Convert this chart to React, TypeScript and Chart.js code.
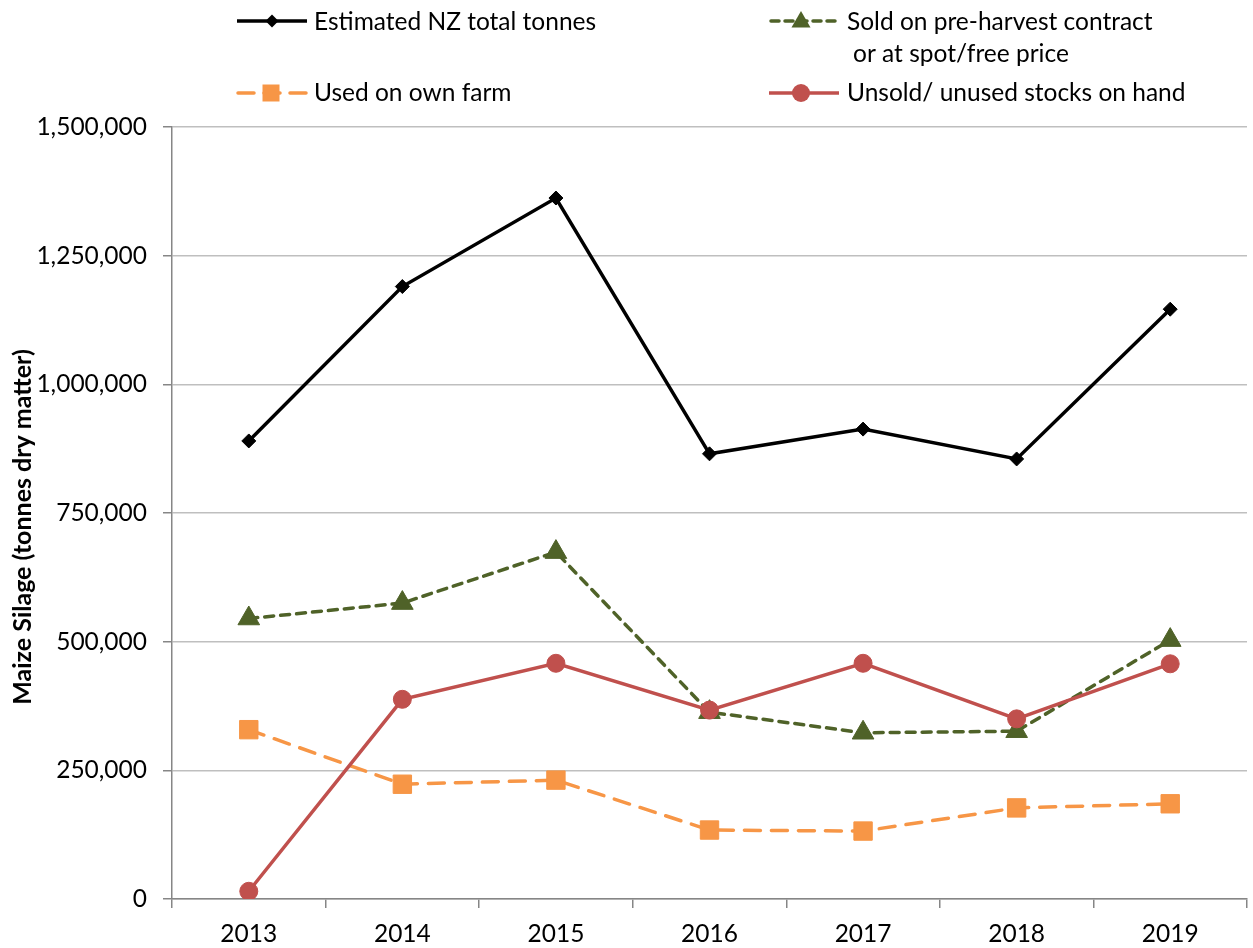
import React, { useEffect, useRef } from "react";
import { Chart, registerables } from "chart.js";

Chart.register(...registerables);

const years = ["2013", "2014", "2015", "2016", "2017", "2018", "2019"];
const totalTonnes = [890000, 1190000, 1362000, 865000, 913000, 855000, 1146000];
const soldContract = [545000, 575000, 674000, 363000, 323000, 326000, 503000];
const usedOwnFarm = [329000, 223000, 231000, 134000, 132000, 177000, 185000];
const unsoldStocks = [15000, 388000, 458000, 367000, 458000, 350000, 457000];
const yTicks = [0, 250000, 500000, 750000, 1000000, 1250000, 1500000];
const yTitle = "Maize Silage (tonnes dry matter)";

const FONT = "Lato, 'Open Sans', sans-serif";
const BLACK = "#000000";
const GREEN = "#4F6228";
const ORANGE = "#F79646";
const RED = "#C0504D";
const AXIS = "#868686";
const GRID = "#BFBFBF";

function marker(ctx: CanvasRenderingContext2D, style: string, x: number, y: number, r: number, color: string) {
  ctx.save();
  ctx.fillStyle = color;
  ctx.beginPath();
  if (style === "diamond") {
    ctx.moveTo(x, y - r);
    ctx.lineTo(x + r, y);
    ctx.lineTo(x, y + r);
    ctx.lineTo(x - r, y);
  } else if (style === "triangle") {
    ctx.moveTo(x, y - r);
    ctx.lineTo(x + r * 0.866, y + r * 0.5);
    ctx.lineTo(x - r * 0.866, y + r * 0.5);
  } else if (style === "square") {
    ctx.rect(x - r, y - r, 2 * r, 2 * r);
  } else {
    ctx.arc(x, y, r, 0, Math.PI * 2);
  }
  ctx.closePath();
  ctx.fill();
  ctx.restore();
}

function sample(ctx: CanvasRenderingContext2D, x1: number, x2: number, y: number, color: string, dash: number[], cap: CanvasLineCap) {
  ctx.save();
  ctx.strokeStyle = color;
  ctx.lineWidth = 3.5;
  ctx.lineCap = cap;
  ctx.setLineDash(dash);
  ctx.beginPath();
  ctx.moveTo(x1, y);
  ctx.lineTo(x2, y);
  ctx.stroke();
  ctx.restore();
}

const legendPlugin = {
  id: "customLegend",
  afterDraw(chart: any) {
    const ctx: CanvasRenderingContext2D = chart.ctx;
    ctx.save();
    ctx.font = `24.5px ${FONT}`;
    ctx.fillStyle = "#000";
    ctx.textBaseline = "middle";
    ctx.textAlign = "left";

    sample(ctx, 237, 307, 21, BLACK, [], "butt");
    marker(ctx, "diamond", 272, 21, 6.5, BLACK);
    ctx.fillText("Estimated NZ total tonnes", 314, 22);

    sample(ctx, 238, 307, 93, ORANGE, [16, 10], "round");
    marker(ctx, "square", 271, 93, 8.5, ORANGE);
    ctx.fillText("Used on own farm", 314, 93);

    sample(ctx, 771, 838, 21, GREEN, [8, 6], "round");
    marker(ctx, "triangle", 801, 22, 11, GREEN);
    ctx.fillText("Sold on pre-harvest contract", 847, 22);
    ctx.fillText("or at spot/free price", 853, 54);

    sample(ctx, 769, 839, 93, RED, [], "butt");
    marker(ctx, "circle", 801, 93, 9, RED);
    ctx.fillText("Unsold/ unused stocks on hand", 847, 93);

    // y-axis title
    ctx.translate(23, 527);
    ctx.rotate(-Math.PI / 2);
    ctx.font = `bold 25px ${FONT}`;
    ctx.textAlign = "center";
    ctx.fillText(yTitle, 0, 0);
    ctx.restore();
  },
};

export default function App() {
  const ref = useRef<HTMLCanvasElement | null>(null);

  useEffect(() => {
    if (!ref.current) return;
    const chart = new Chart(ref.current, {
      type: "line",
      data: {
        labels: years,
        datasets: [
          {
            label: "Estimated NZ total tonnes",
            data: totalTonnes,
            borderColor: BLACK,
            backgroundColor: BLACK,
            borderWidth: 3.5,
            pointStyle: "rectRot",
            pointRadius: 7,
            pointBorderWidth: 1,
            order: 4,
          },
          {
            label: "Sold on pre-harvest contract or at spot/free price",
            data: soldContract,
            borderColor: GREEN,
            backgroundColor: GREEN,
            borderWidth: 3.5,
            borderDash: [9, 7],
            borderCapStyle: "round",
            pointStyle: "triangle",
            pointRadius: 12.5,
            pointBorderWidth: 1,
            order: 3,
          },
          {
            label: "Used on own farm",
            data: usedOwnFarm,
            borderColor: ORANGE,
            backgroundColor: ORANGE,
            borderWidth: 3.5,
            borderDash: [16, 11],
            borderCapStyle: "round",
            pointStyle: "rect",
            pointRadius: 13,
            pointBorderWidth: 1,
            order: 2,
          },
          {
            label: "Unsold/ unused stocks on hand",
            data: unsoldStocks,
            borderColor: RED,
            backgroundColor: RED,
            borderWidth: 3.5,
            pointStyle: "circle",
            pointRadius: 9,
            pointBorderWidth: 1,
            order: 1,
          },
        ],
      },
      options: {
        animation: false,
        responsive: false,
        maintainAspectRatio: false,
        layout: { autoPadding: false, padding: { top: 127, right: 6, left: 0, bottom: 0 } },
        plugins: {
          legend: { display: false },
          tooltip: { enabled: false },
          title: { display: false },
        },
        scales: {
          x: {
            type: "category",
            offset: true,
            grid: {
              offset: true,
              drawOnChartArea: false,
              drawTicks: true,
              tickLength: 9,
              color: AXIS,
              lineWidth: 1.5,
            },
            border: { color: AXIS, width: 1.5 },
            ticks: {
              color: "#000",
              font: { family: FONT, size: 24.5 },
              padding: 11,
              maxRotation: 0,
            },
            afterFit: (s: any) => {
              s.height = 49;
              s.paddingLeft = 0;
              s.paddingRight = 0;
            },
          },
          y: {
            min: 0,
            max: 1500000,
            afterBuildTicks: (s: any) => {
              s.ticks = yTicks.map((v) => ({ value: v }));
            },
            grid: {
              color: GRID,
              lineWidth: 1.5,
              tickLength: 9,
              tickColor: AXIS,
              drawTicks: true,
            },
            border: { color: AXIS, width: 1.5 },
            ticks: {
              color: "#000",
              font: { family: FONT, size: 24.5 },
              padding: 16,
              callback: (v: any) => Number(v).toLocaleString("en-US"),
            },
            title: { display: false },
            afterFit: (s: any) => {
              s.width = 172;
            },
          },
        },
      },
      plugins: [legendPlugin],
    });
    return () => chart.destroy();
  }, []);

  return (
    <div style={{ position: "absolute", left: 0, top: 0, width: 1253, height: 948, background: "#fff" }}>
      <canvas ref={ref} width={1253} height={948} style={{ width: 1253, height: 948, display: "block" }} />
    </div>
  );
}
